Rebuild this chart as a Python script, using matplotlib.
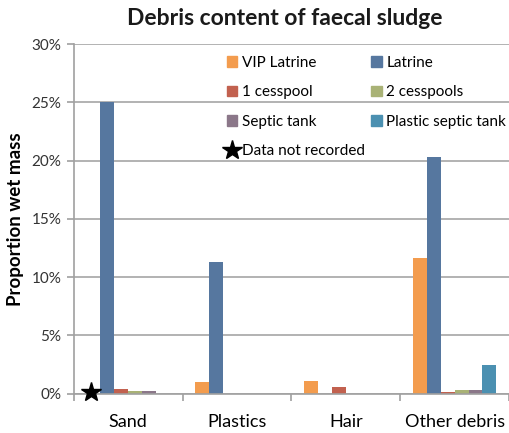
import matplotlib.pyplot as plt
from matplotlib.lines import Line2D
from matplotlib.patches import Patch
from matplotlib.ticker import FuncFormatter
import numpy as np

plt.rcParams['font.family'] = ['Lato', 'DejaVu Sans']

categories = ['Sand', 'Plastics', 'Hair', 'Other debris']
series = ['VIP Latrine', 'Latrine', '1 cesspool', '2 cesspools',
          'Septic tank', 'Plastic septic tank']
# proportion of wet mass, %; nan = data not recorded
vip_latrine = [np.nan, 1.0, 1.1, 11.6]
latrine = [25.0, 11.3, 0.0, 20.3]
cesspool_1 = [0.4, 0.0, 0.6, 0.15]
cesspools_2 = [0.2, 0.0, 0.0, 0.3]
septic_tank = [0.2, 0.0, 0.0, 0.3]
plastic_septic = [0.0, 0.0, 0.0, 2.45]

values = [vip_latrine, latrine, cesspool_1, cesspools_2, septic_tank, plastic_septic]
colors = ['#F39C4E', '#56779F', '#C2614F', '#A9B276', '#8B7789', '#4B90B1']

fig = plt.figure(figsize=(5.09, 4.33), dpi=100)
ax = fig.add_axes([0.145, 0.091, 0.855, 0.807])

x = np.arange(len(categories))
w = 0.128
for i, (vals, c) in enumerate(zip(values, colors)):
    ax.bar(x + (i - 2.5) * w, vals, width=w, color=c, zorder=2)

# missing VIP value for sand
missing = [j for j, v in enumerate(vip_latrine) if np.isnan(v)]
ax.plot(x[missing] - 2.7 * w, [0.1] * len(missing), marker='*', color='black',
        markersize=15, linestyle='none', zorder=3, clip_on=False)

ax.set_xlim(-0.5, 3.5)
ax.set_ylim(0, 30)
ax.set_yticks(np.arange(0, 31, 5))
ax.yaxis.set_major_formatter(FuncFormatter(lambda v, p: f'{v:.0f}%'))
ax.yaxis.grid(True, color='#A6A6A6', linewidth=1.2, zorder=0)
ax.set_axisbelow(True)

ax.set_xticks(np.arange(-0.5, 3.6, 1))
ax.set_xticklabels([])
ax.set_xticks(x, minor=True)
ax.set_xticklabels(categories, minor=True, fontsize=13)
ax.tick_params(axis='x', which='minor', length=0, pad=15)
ax.tick_params(axis='x', which='major', length=5, color='#A0A0A0', width=1.2)
ax.tick_params(axis='y', length=5, color='#A0A0A0', width=1.2, labelsize=11,
               labelcolor='#333333', pad=4)

for s in ['top', 'right']:
    ax.spines[s].set_visible(False)
for s in ['left', 'bottom']:
    ax.spines[s].set_color('#A0A0A0')
    ax.spines[s].set_linewidth(1.2)

ax.set_ylabel('Proportion wet mass', fontsize=13.5, fontweight='bold', labelpad=5)
fig.text(0.56, 0.958, 'Debris content of faecal sludge', ha='center', va='center',
         fontsize=16.5, fontweight='bold', color='#1a1a1a')

handles = [Patch(color=c) for c in colors]
star = Line2D([], [], marker='*', color='black', markersize=15, linestyle='none')
leg_handles = [handles[0], handles[2], handles[4], star, handles[1], handles[3], handles[5]]
leg_labels = [series[0], series[2], series[4], 'Data not recorded',
              series[1], series[3], series[5]]
ax.legend(leg_handles, leg_labels, ncol=2, frameon=False, fontsize=11,
          loc='upper left', bbox_to_anchor=(0.43, 0.888), bbox_transform=fig.transFigure,
          handlelength=0.7, handleheight=0.7, handletextpad=0.3,
          columnspacing=0.4, labelspacing=1.0, borderpad=0)

fig.savefig('out.png', dpi=100)
